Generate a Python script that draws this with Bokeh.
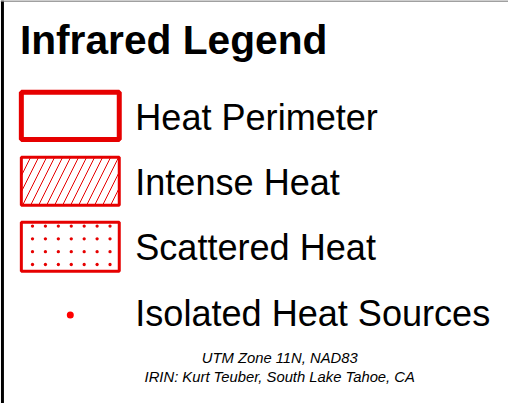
import numpy as np
from bokeh.plotting import figure
from bokeh.models import Range1d
from bokeh.core.properties import value
from bokeh.embed import file_html
from bokeh.resources import INLINE

# ---- content ----
title_text = "Infrared Legend"
labels = ["Heat Perimeter", "Intense Heat", "Scattered Heat", "Isolated Heat Sources"]
symbol_kinds = ["perimeter", "hatch", "dots", "point"]
footer_lines = ["UTM Zone 11N, NAD83", "IRIN: Kurt Teuber, South Lake Tahoe, CA"]

RED = "#e60000"
FONT = "Liberation Sans"

REF_W, REF_H = 524, 419
W, H = 508, 403
S = W / REF_W
BASE_FIX = 0.37  # baseline correction for the svg text placement


def px(v):
    return f"{v * S:.1f}px"


p = figure(width=W, height=H, output_backend="svg", toolbar_location=None,
           x_range=Range1d(0, REF_W), y_range=Range1d(REF_H, 0),
           min_border=0, outline_line_color=None, background_fill_color="white")
p.axis.visible = False
p.grid.visible = False

# frame lines
p.segment(x0=[2], y0=[0], x1=[2], y1=[REF_H], line_color="black", line_width=3)
p.segment(x0=[0], y0=[0.5], x1=[REF_W], y1=[0.5], line_color="#808080", line_width=1.5)

# title
fs_title = 42
p.text(x=[20], y=[57 - BASE_FIX * fs_title], text=[title_text], text_font=value(FONT),
       text_font_size=px(fs_title), text_font_style="bold", text_baseline="alphabetic",
       text_align="left", text_color="black")

row_step = 68
base0 = 135
baselines = [base0 + i * row_step for i in range(len(labels))]

# labels
fs_lab = 37.2
p.text(x=[139] * len(labels), y=[b - BASE_FIX * fs_lab for b in baselines], text=labels,
       text_font=value(FONT), text_font_size=px(fs_lab), text_baseline="alphabetic",
       text_align="left", text_color="black")

# symbols
box_l, box_r = 21.5, 122.5
for kind, b in zip(symbol_kinds, baselines):
    cy = b - 15
    if kind == "perimeter":
        p.quad(left=[box_l], right=[box_r], top=[cy - 24.5], bottom=[cy + 24.5],
               fill_color="white", line_color=RED, line_width=5)
    elif kind == "hatch":
        p.quad(left=[box_l], right=[box_r], top=[cy - 25], bottom=[cy + 25],
               fill_color="white", line_color=RED, line_width=3,
               hatch_pattern="/", hatch_color=RED, hatch_scale=16, hatch_weight=1)
    elif kind == "dots":
        top, bot = cy - 25.5, cy + 25.5
        p.quad(left=[box_l], right=[box_r], top=[top], bottom=[bot],
               fill_color="white", line_color=RED, line_width=3)
        step = 13.33
        gx = box_l + 11.5 + step * np.arange(7)
        gy = top + 4.0 + step * np.arange(4)
        X, Y = np.meshgrid(gx, gy)
        p.scatter(x=X.ravel(), y=Y.ravel(), size=3.3, marker="circle",
                  fill_color=RED, line_color=None)
    else:
        p.scatter(x=[72], y=[cy + 3], size=7, marker="circle", fill_color="#ff0000",
                  line_color=None)

# footer
fs_foot = 15.3
p.text(x=[288, 288], y=[377 - BASE_FIX * fs_foot, 397 - BASE_FIX * fs_foot], text=footer_lines,
       text_font=value(FONT), text_font_size=px(fs_foot), text_font_style="italic",
       text_baseline="alphabetic", text_align="center", text_color="black")

open("out.html", "w").write(file_html(p, INLINE))
